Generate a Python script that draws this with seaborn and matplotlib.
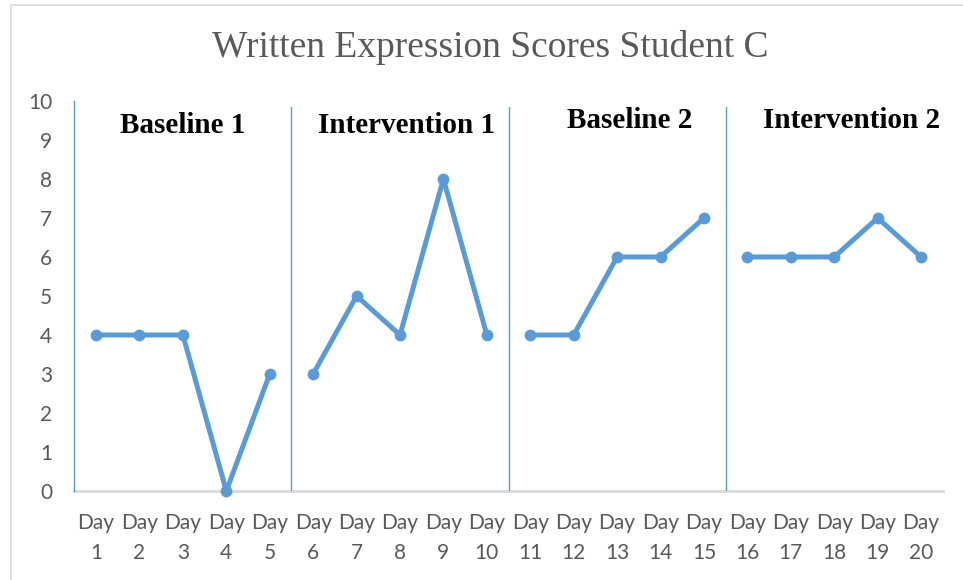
import pandas as pd
import matplotlib.pyplot as plt
import seaborn as sns
from matplotlib.patches import Rectangle

# data
days = list(range(1, 21))
phases = ["Baseline 1"] * 5 + ["Intervention 1"] * 5 + ["Baseline 2"] * 5 + ["Intervention 2"] * 5
scores = [4, 4, 4, 0, 3,
          3, 5, 4, 8, 4,
          4, 4, 6, 6, 7,
          6, 6, 6, 7, 6]
phase_names = ["Baseline 1", "Intervention 1", "Baseline 2", "Intervention 2"]
phase_breaks = [5.5, 10.5, 15.5]
xtick_labels = [f"Day\n{d}" for d in days]

df = pd.DataFrame({"day": days, "score": scores, "phase": phases})

sns.set_style("white")
blue = "#5B9BD5"
grey = "#595959"

fig = plt.figure(figsize=(9.63, 5.8), dpi=100)
ax = fig.add_axes([0.0772, 0.1534, 0.9018, 0.6726])

# outer chart frame
fig.patches.append(Rectangle((11 / 963, -0.05), 1.0, 1.05 - 5 / 580, transform=fig.transFigure,
                             fill=False, edgecolor="#D9D9D9", linewidth=1.2))

# one line per phase, no connection across phase changes
sns.lineplot(data=df, x="day", y="score", units="phase", estimator=None, color=blue,
             linewidth=3.6, marker="o", markersize=8.5, markeredgewidth=0, ax=ax,
             clip_on=False, zorder=5)

for b in phase_breaks:
    ax.axvline(b, ymin=0, ymax=0.985, color=blue, linewidth=1)

# phase labels
label_x = [3.0, 8.15, 13.3, 18.4]
label_y = [9.38, 9.38, 9.51, 9.51]
for name, lx, ly in zip(phase_names, label_x, label_y):
    ax.text(lx, ly, name, ha="center", va="center", fontsize=21, fontweight="bold",
            family="Liberation Serif", color="black")

ax.set_xlim(0.5, 20.5)
ax.set_ylim(0, 10)
ax.set_yticks(range(0, 11))
ax.set_xticks(days)
ax.set_xticklabels(xtick_labels, linespacing=1.6)
ax.tick_params(axis="both", length=0, labelsize=15, labelcolor=grey)
ax.tick_params(axis="y", pad=16)
ax.tick_params(axis="x", pad=16)
for lab in ax.get_xticklabels() + ax.get_yticklabels():
    lab.set_family("Lato")
ax.set_xlabel("")
ax.set_ylabel("")

for s in ["top", "right"]:
    ax.spines[s].set_visible(False)
ax.spines["left"].set_color(blue)
ax.spines["left"].set_linewidth(1)
ax.spines["bottom"].set_color("#D9D9D9")
ax.spines["bottom"].set_linewidth(2)
ax.spines["bottom"].set_zorder(1)

fig.text(0.509, 0.918, "Written Expression Scores Student C", ha="center", va="center",
         fontsize=27, family="Liberation Serif", color=grey)

fig.savefig("out.png", dpi=100)
